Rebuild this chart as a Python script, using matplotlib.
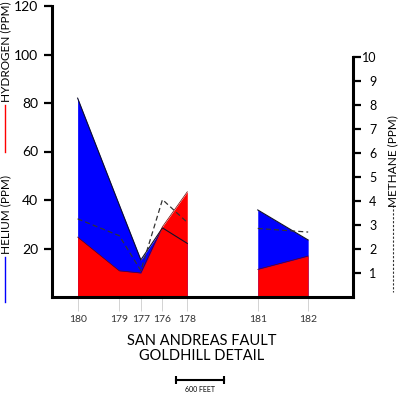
import numpy as np
import matplotlib.pyplot as plt
from matplotlib.lines import Line2D

plt.rcParams['font.family'] = ['Lato', 'DejaVu Sans']

# sampling sites along the fault, distance from site 180 in feet
sites = ['180', '179', '177', '176', '178', '181', '182']
dist_ft = [0, 520, 790, 1060, 1370, 2250, 2880]
traverse = [0, 0, 0, 0, 0, 1, 1]

# soil gas values
helium = [82, 38, 15.3, 28.5, 22.1, 35.9, 23.5]      # ppm
hydrogen = [24.7, 10.8, 9.9, 29.0, 43.4, 11.4, 16.9]  # ppm
methane = [3.25, 2.55, 1.1, 4.05, 3.1, 2.85, 2.7]     # ppm

scale_ft = 600

W, H = 400, 395
def fx(px):
    return px / W
def fy(py):
    return 1 - py / H

fig = plt.figure(figsize=(W / 100, H / 100), dpi=100)
ax = fig.add_axes([fx(52), fy(297), (353 - 52) / W, 291 / H])
ax2 = ax.twinx()

x = np.array(dist_ft, dtype=float)
he = np.array(helium)
h2 = np.array(hydrogen)
ch4 = np.array(methane)
tr = np.array(traverse)

for k in np.unique(tr):
    sel = tr == k
    ax.fill_between(x[sel], 0, he[sel], color='#0000ff', lw=0, zorder=1)
    ax.fill_between(x[sel], 0, h2[sel], color='#ff0000', lw=0, zorder=2)
    ax.plot(x[sel], he[sel], color='#10102a', lw=0.8, zorder=3)
    ax.plot(x[sel], h2[sel], color='#700000', lw=0.5, zorder=3)
    ax2.plot(x[sel], ch4[sel], color='#333333', lw=0.9, dashes=(4, 2.5))

ax.set_xlim(-320, 3440)
ax.set_ylim(0, 120)
ax2.set_ylim(0, 12.1)

for a in (ax, ax2):
    a.spines['top'].set_visible(False)
ax.spines['right'].set_visible(False)
ax2.spines['left'].set_visible(False)
ax2.spines['bottom'].set_visible(False)
ax.spines['left'].set_linewidth(2.2)
ax.spines['bottom'].set_linewidth(2.2)
ax2.spines['right'].set_linewidth(2.2)
ax2.spines['right'].set_bounds(0, 10)

ax.set_yticks([20, 40, 60, 80, 100, 120])
ax.tick_params(axis='y', direction='out', length=6, width=1.6, pad=4, labelsize=10)
ax.set_xticks(dist_ft, sites)
ax.tick_params(axis='x', direction='out', length=10, width=0.6, color='#cccccc',
               pad=3, labelsize=7.5, labelcolor='#333333')

ax2.set_yticks(range(1, 11))
ax2.tick_params(axis='y', direction='out', length=6, width=1.6, pad=11, labelsize=9)
for lab in ax2.get_yticklabels():
    lab.set_ha('right')

# axis titles with their legend strokes
fig.text(fx(6), fy(52), 'HYDROGEN (PPM)', rotation=90, ha='center', va='center', fontsize=8.5)
fig.text(fx(6), fy(214), 'HELIUM (PPM)', rotation=90, ha='center', va='center', fontsize=8.5)
fig.text(fx(393), fy(161), 'METHANE (PPM)', rotation=90, ha='center', va='center', fontsize=8.5)
fig.add_artist(Line2D([fx(5), fx(5)], [fy(105), fy(152)], color='#ff0000', lw=1))
fig.add_artist(Line2D([fx(5), fx(5)], [fy(257), fy(302)], color='#0000ff', lw=1))
fig.add_artist(Line2D([fx(393), fx(393)], [fy(205), fy(292)], color='#333333', lw=0.8,
                      dashes=(2, 1.5)))

fig.text(fx(202), fy(341), 'SAN ANDREAS FAULT', ha='center', va='center', fontsize=10.5)
fig.text(fx(202), fy(356), 'GOLDHILL DETAIL', ha='center', va='center', fontsize=10.5)

# scale bar
tb = ax.get_xaxis_transform()
x0 = 1230
ax.plot([x0, x0 + scale_ft], [-0.285, -0.285], color='black', lw=1.5, transform=tb,
        clip_on=False, marker='|', markersize=6, markeredgewidth=1.5)
ax.text(x0 + scale_ft / 2, -0.318, f'{scale_ft} FEET', transform=tb, ha='center',
        va='center', fontsize=5)

fig.savefig('out.png', dpi=100)
